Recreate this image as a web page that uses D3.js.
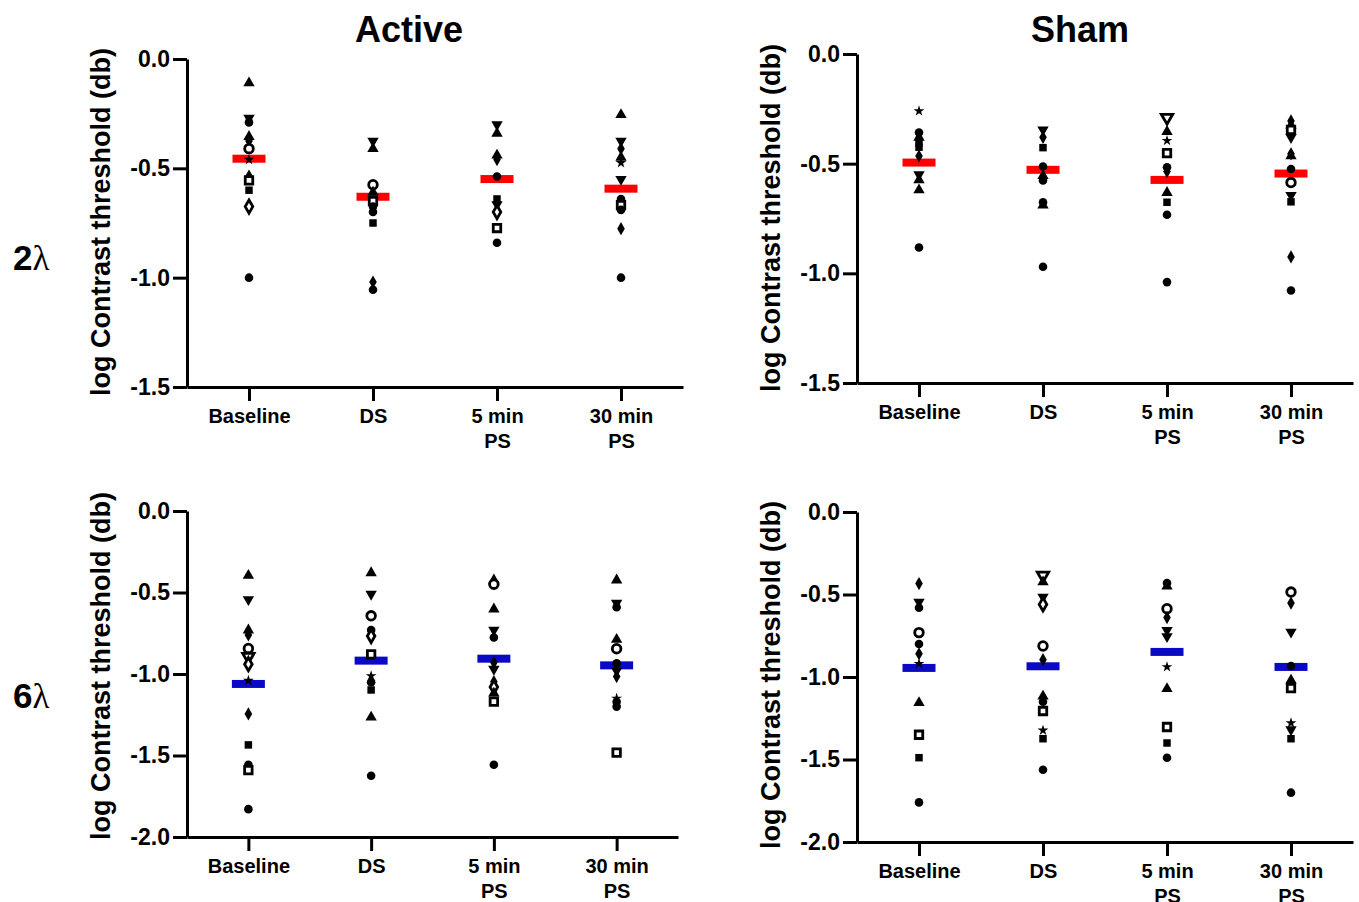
<!DOCTYPE html>
<html lang="en">
<head>
  <meta charset="UTF-8">
  <title>Contrast threshold – Active vs Sham</title>
  <script src="https://d3js.org/d3.v7.min.js"></script>
  <style>
    body {
      margin: 0;
      background: #fff;
      font-family: "Liberation Sans", Arial, sans-serif;
    }
    .axis path, .axis line {
      stroke: #000;
      stroke-width: 3px;
    }
    .axis text {
      font-family: "Liberation Sans", Arial, sans-serif;
      font-weight: bold;
      fill: #000;
    }
  </style>
</head>
<body>
  <svg width="1359" height="902"></svg>

  <script>
    // categories and tick values
    const categories = ["Baseline", "DS", "5 min PS", "30 min PS"];
    const categoryLines = [["Baseline"], ["DS"], ["5 min", "PS"], ["30 min", "PS"]];
    const ticksTwo = [0, -0.5, -1.0, -1.5];
    const ticksSix = [0, -0.5, -1.0, -1.5, -2.0];

    // symbol codes: c circle, s square, u triangle up, d triangle down, m diamond,
    // co / so / do / mo open versions, st star
    const activeTwo = [
      [[-0.11, "u"], [-0.27, "d"], [-0.29, "c"], [-0.355, "u"], [-0.375, "m"], [-0.41, "co"],
       [-0.46, "st"], [-0.535, "m"], [-0.555, "so"], [-0.60, "s"], [-0.675, "mo"], [-1.0, "c"]],
      [[-0.375, "d"], [-0.41, "u"], [-0.575, "co"], [-0.61, "u"], [-0.65, "so"], [-0.675, "c"],
       [-0.70, "c"], [-0.75, "s"], [-1.02, "m"], [-1.055, "c"]],
      [[-0.30, "d"], [-0.34, "u"], [-0.44, "u"], [-0.46, "m"], [-0.537, "c"], [-0.64, "s"],
       [-0.665, "d"], [-0.70, "mo"], [-0.773, "so"], [-0.84, "c"]],
      [[-0.255, "u"], [-0.375, "d"], [-0.41, "m"], [-0.45, "u"], [-0.475, "st"], [-0.55, "d"],
       [-0.64, "c"], [-0.668, "so"], [-0.69, "c"], [-0.776, "m"], [-1.0, "c"]]
    ];
    const activeTwoMean = [-0.456, -0.63, -0.549, -0.593];

    const shamTwo = [
      [[-0.26, "st"], [-0.358, "c"], [-0.38, "u"], [-0.405, "s"], [-0.425, "s"], [-0.465, "m"],
       [-0.55, "d"], [-0.574, "u"], [-0.62, "u"], [-0.882, "c"]],
      [[-0.345, "d"], [-0.38, "m"], [-0.427, "s"], [-0.513, "c"], [-0.555, "u"], [-0.577, "c"],
       [-0.676, "c"], [-0.69, "u"], [-0.97, "c"]],
      [[-0.29, "do"], [-0.354, "u"], [-0.395, "st"], [-0.452, "so"], [-0.516, "c"], [-0.536, "m"],
       [-0.632, "u"], [-0.676, "s"], [-0.733, "c"], [-1.04, "c"]],
      [[-0.305, "m"], [-0.325, "u"], [-0.346, "so"], [-0.38, "d"], [-0.455, "m"], [-0.465, "u"],
       [-0.524, "c"], [-0.586, "co"], [-0.644, "d"], [-0.674, "s"], [-0.925, "m"], [-1.078, "c"]]
    ];
    const shamTwoMean = [-0.495, -0.528, -0.574, -0.545];

    const activeSix = [
      [[-0.396, "u"], [-0.543, "d"], [-0.731, "u"], [-0.76, "m"], [-0.843, "co"], [-0.894, "do"],
       [-0.94, "mo"], [-1.04, "st"], [-1.245, "m"], [-1.435, "s"], [-1.557, "c"], [-1.59, "so"],
       [-1.829, "c"]],
      [[-0.38, "u"], [-0.51, "d"], [-0.643, "co"], [-0.73, "c"], [-0.767, "mo"], [-0.88, "so"],
       [-1.012, "st"], [-1.05, "c"], [-1.098, "s"], [-1.265, "u"], [-1.624, "c"]],
      [[-0.424, "u"], [-0.449, "co"], [-0.602, "u"], [-0.73, "d"], [-0.776, "c"], [-0.93, "m"],
       [-0.97, "d"], [-1.047, "m"], [-1.08, "mo"], [-1.118, "u"], [-1.169, "so"], [-1.557, "c"]],
      [[-0.424, "u"], [-0.565, "d"], [-0.59, "c"], [-0.788, "u"], [-0.845, "co"], [-0.935, "c"],
       [-0.98, "d"], [-1.016, "m"], [-1.15, "st"], [-1.17, "c"], [-1.2, "c"], [-1.482, "so"]]
    ];
    const activeSixMean = [-1.061, -0.918, -0.906, -0.947];

    const shamSix = [
      [[-0.434, "m"], [-0.545, "d"], [-0.58, "c"], [-0.731, "co"], [-0.80, "c"], [-0.859, "m"],
       [-0.919, "st"], [-1.156, "u"], [-1.35, "so"], [-1.489, "s"], [-1.76, "c"]],
      [[-0.384, "do"], [-0.424, "u"], [-0.515, "d"], [-0.56, "mo"], [-0.812, "co"], [-0.895, "m"],
       [-1.117, "u"], [-1.15, "c"], [-1.206, "so"], [-1.323, "st"], [-1.374, "s"], [-1.562, "c"]],
      [[-0.43, "c"], [-0.45, "u"], [-0.586, "co"], [-0.64, "m"], [-0.717, "d"], [-0.754, "d"],
       [-0.939, "st"], [-1.071, "u"], [-1.303, "so"], [-1.40, "s"], [-1.489, "c"]],
      [[-0.485, "co"], [-0.552, "m"], [-0.727, "d"], [-0.933, "c"], [-1.02, "u"], [-1.067, "so"],
       [-1.279, "st"], [-1.319, "d"], [-1.374, "s"], [-1.701, "c"]]
    ];
    const shamSixMean = [-0.945, -0.935, -0.848, -0.939];

    const svg = d3.select("svg");

    // panel layout (pixel boxes of each plot area)
    const panels = [
      { data: activeTwo, means: activeTwoMean, ticks: ticksTwo, color: "#ff0000", x0: 187, x1: 683, y0: 59, y1: 387, ty: 222 },
      { data: shamTwo, means: shamTwoMean, ticks: ticksTwo, color: "#ff0000", x0: 857, x1: 1353, y0: 54, y1: 383, ty: 218 },
      { data: activeSix, means: activeSixMean, ticks: ticksSix, color: "#0a0ac4", x0: 187, x1: 678, y0: 511, y1: 837, ty: 666 },
      { data: shamSix, means: shamSixMean, ticks: ticksSix, color: "#0a0ac4", x0: 857, x1: 1353, y0: 512, y1: 842, ty: 675 }
    ];

    const symbolOf = {
      c: d3.symbolCircle, co: d3.symbolCircle,
      s: d3.symbolSquare, so: d3.symbolSquare,
      u: d3.symbolTriangle, uo: d3.symbolTriangle,
      d: d3.symbolTriangle, do: d3.symbolTriangle,
      m: d3.symbolDiamond, mo: d3.symbolDiamond,
      st: d3.symbolStar
    };
    const sizeOf = { c: 58, s: 56, u: 56, d: 56, m: 50, st: 36 };
    const isOpen = code => code.length === 2 && code !== "st";

    panels.forEach(p => {
      const x = d3.scalePoint()
        .domain(categories)
        .range([p.x0, p.x1])
        .padding(0.5);

      const y = d3.scaleLinear()
        .domain([d3.min(p.ticks), 0])
        .range([p.y1, p.y0]);

      const g = svg.append("g");

      // y axis
      g.append("g")
        .attr("class", "axis")
        .attr("transform", `translate(${p.x0},0)`)
        .call(d3.axisLeft(y).tickValues(p.ticks).tickSize(14).tickSizeOuter(0).tickPadding(3)
          .tickFormat(d => d.toFixed(1)))
        .selectAll("text")
        .attr("font-size", "23px");

      // x axis
      const xAxis = g.append("g")
        .attr("class", "axis")
        .attr("transform", `translate(0,${p.y1})`)
        .call(d3.axisBottom(x).tickSize(14).tickSizeOuter(0));

      xAxis.selectAll(".tick text")
        .attr("font-size", "20px")
        .attr("y", 0)
        .attr("dy", null)
        .text(null)
        .each(function(d) {
          const lines = categoryLines[categories.indexOf(d)];
          d3.select(this).selectAll("tspan")
            .data(lines)
            .enter()
            .append("tspan")
            .attr("x", 0)
            .attr("y", (l, j) => 36 + j * 25)
            .text(l => l);
        });

      // mean bars
      g.selectAll(".mean")
        .data(p.means)
        .enter()
        .append("rect")
        .attr("class", "mean")
        .attr("x", (d, i) => x(categories[i]) - 16.5)
        .attr("y", d => y(d) - 4)
        .attr("width", 33)
        .attr("height", 8)
        .attr("fill", p.color);

      // subject points
      p.data.forEach((col, i) => {
        g.selectAll(null)
          .data(col)
          .enter()
          .append("path")
          .attr("d", d => d3.symbol().type(symbolOf[d[1]]).size(sizeOf[d[1].replace("o", "")] || 50)())
          .attr("transform", d => {
            const flip = d[1] === "d" || d[1] === "do" ? " rotate(180)" : "";
            return `translate(${x(categories[i])},${y(d[0])})${flip}`;
          })
          .attr("fill", d => isOpen(d[1]) ? "#fff" : "#000")
          .attr("stroke", "#000")
          .attr("stroke-width", d => isOpen(d[1]) ? 2.8 : 0);
      });

      // y axis title
      svg.append("text")
        .attr("transform", `translate(${p.x0 - 77},${p.ty}) rotate(-90)`)
        .attr("text-anchor", "middle")
        .attr("font-size", "27px")
        .attr("font-weight", "bold")
        .text("log Contrast threshold (db)");
    });

    // column titles
    svg.append("text")
      .attr("x", 409).attr("y", 42)
      .attr("text-anchor", "middle")
      .attr("font-size", "36px").attr("font-weight", "bold")
      .text("Active");

    svg.append("text")
      .attr("x", 1080).attr("y", 42)
      .attr("text-anchor", "middle")
      .attr("font-size", "36px").attr("font-weight", "bold")
      .text("Sham");

    // row labels
    [["2", 270], ["6", 708]].forEach(([n, yPos]) => {
      const t = svg.append("text")
        .attr("x", 13).attr("y", yPos)
        .attr("font-size", "35px");
      t.append("tspan").attr("font-weight", "bold").text(n);
      t.append("tspan").attr("font-family", "'Liberation Serif', 'Times New Roman', serif").text("λ");
    });
  </script>
</body>
</html>
